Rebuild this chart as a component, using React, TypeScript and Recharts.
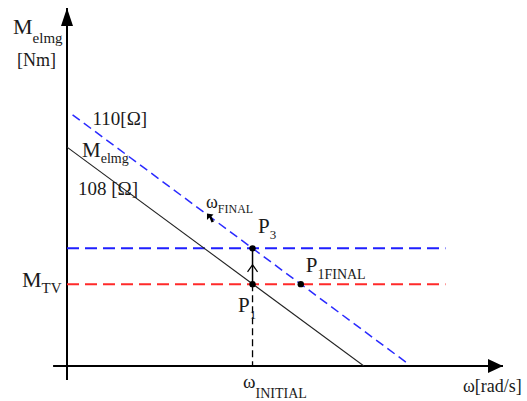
import React from 'react';
import { ComposedChart, Line, XAxis, YAxis, ReferenceLine, ReferenceDot } from 'recharts';

// Speed (rad/s) and electromagnetic torque (Nm) ranges of the diagram
const omegaDomain: [number, number] = [0, 235];
const torqueDomain: [number, number] = [0, 175];

// Mechanical characteristics for the two rotor resistances
const char108 = [
  { w: 0, m: 107 },
  { w: 160, m: 0 },
];
const char110 = [
  { w: 3, m: 122.8 },
  { w: 184, m: 1 },
];

// Operating points
const omegaInitial = 100;
const omegaP1Final = 126;
const torqueLoad = 40; // M_TV
const torqueP3 = 57.5;
const levelEnd = 204;
const omegaFinalMark = { w: 77.6, m: 72.6 };
const arrowMid = 48.5;

// Axis extents (including the small overshoot past the origin)
const axisX = { from: -7.5, to: 235 };
const axisY = { from: -6.8, to: 175 };

const FONT = '"Liberation Serif", "DejaVu Serif", serif';
const INK = '#1a1a1a';

type Pt = { cx?: number; cy?: number };

function Sub({ x, y, main, sub, size = 20, subSize = 13, drop = 7, anchor = 'start' }: {
  x: number; y: number; main: string; sub?: string; size?: number; subSize?: number; drop?: number; anchor?: string;
}) {
  return (
    <text x={x} y={y} fontFamily={FONT} fill={INK} textAnchor={anchor as any}>
      <tspan fontSize={size}>{main}</tspan>
      {sub ? (
        <tspan fontSize={subSize} dy={drop}>
          {sub}
        </tspan>
      ) : null}
    </text>
  );
}

const label = (render: (cx: number, cy: number) => React.ReactNode) => (p: Pt) => {
  const cx = p.cx ?? 0;
  const cy = p.cy ?? 0;
  return <g>{render(cx, cy)}</g>;
};

const upTriangle = label((cx, cy) => (
  <polygon points={`${cx},${cy} ${cx - 6},${cy + 18} ${cx + 6},${cy + 18}`} fill="#000" />
));
const rightTriangle = label((cx, cy) => (
  <polygon points={`${cx},${cy} ${cx - 15},${cy - 7} ${cx - 15},${cy + 7}`} fill="#000" />
));
const chevron = label((cx, cy) => (
  <polyline points={`${cx - 5},${cy + 5} ${cx},${cy - 2} ${cx + 5},${cy + 5}`} fill="none" stroke="#000" strokeWidth={1.2} />
));
const smallArrow = label((cx, cy) => (
  <path
    d={`M ${cx - 4} ${cy - 4} L ${cx + 2.5} ${cy - 3} L ${cx + 0.5} ${cy - 1} L ${cx + 3} ${cy + 4} L ${cx + 0.5} ${cy + 5} L ${cx - 1.5} ${cy} L ${cx - 4} ${cy + 2.5} Z`}
    fill="#000"
  />
));
const blackDot = label((cx, cy) => <circle cx={cx} cy={cy} r={3.2} fill="#000" />);

export default function App() {
  return (
    <div style={{ position: 'absolute', left: 0, top: 0, width: 527, height: 401, background: '#fff' }}>
      <ComposedChart width={527} height={401} margin={{ top: 8, right: 24, bottom: 35, left: 67 }}>
        <XAxis type="number" dataKey="w" domain={omegaDomain} hide allowDataOverflow />
        <YAxis type="number" dataKey="m" domain={torqueDomain} hide allowDataOverflow />

        {/* coordinate axes */}
        <ReferenceLine
          segment={[{ x: axisX.from, y: 0 }, { x: axisX.to, y: 0 }]}
          stroke="#000"
          strokeWidth={2}
          ifOverflow="visible"
        />
        <ReferenceLine
          segment={[{ x: 0, y: axisY.from }, { x: 0, y: axisY.to }]}
          stroke="#000"
          strokeWidth={2}
          ifOverflow="visible"
        />
        <ReferenceDot x={0} y={axisY.to} shape={upTriangle} ifOverflow="visible" />
        <ReferenceDot x={axisX.to} y={0} shape={rightTriangle} ifOverflow="visible" />

        {/* load torque and new torque levels */}
        <ReferenceLine
          segment={[{ x: 0, y: torqueP3 }, { x: levelEnd, y: torqueP3 }]}
          stroke="#1f1fff"
          strokeWidth={2}
          strokeDasharray="12 6"
          ifOverflow="visible"
        />
        <ReferenceLine
          segment={[{ x: 0, y: torqueLoad }, { x: levelEnd, y: torqueLoad }]}
          stroke="#ff2a2a"
          strokeWidth={2}
          strokeDasharray="12 6"
          ifOverflow="visible"
        />

        {/* initial speed drop line */}
        <ReferenceLine
          segment={[{ x: omegaInitial, y: torqueLoad }, { x: omegaInitial, y: 0 }]}
          stroke="#000"
          strokeWidth={1.3}
          strokeDasharray="7 4"
          ifOverflow="visible"
        />

        <Line
          data={char108}
          dataKey="m"
          type="linear"
          stroke="#222"
          strokeWidth={1.1}
          dot={false}
          isAnimationActive={false}
        />
        <Line
          data={char110}
          dataKey="m"
          type="linear"
          stroke="#2a2aff"
          strokeWidth={1.5}
          strokeDasharray="9 5"
          dot={false}
          isAnimationActive={false}
        />

        {/* jump P1 -> P3 */}
        <ReferenceLine
          segment={[{ x: omegaInitial, y: torqueLoad }, { x: omegaInitial, y: torqueP3 }]}
          stroke="#000"
          strokeWidth={1.5}
          ifOverflow="visible"
        />
        <ReferenceDot x={omegaInitial} y={arrowMid} shape={chevron} ifOverflow="visible" />
        <ReferenceDot x={omegaFinalMark.w} y={omegaFinalMark.m} shape={smallArrow} ifOverflow="visible" />

        <ReferenceDot x={omegaInitial} y={torqueLoad} shape={blackDot} ifOverflow="visible" />
        <ReferenceDot x={omegaInitial} y={torqueP3} shape={blackDot} ifOverflow="visible" />
        <ReferenceDot x={omegaP1Final} y={torqueLoad} shape={blackDot} ifOverflow="visible" />

        {/* text */}
        <ReferenceDot
          x={0}
          y={axisY.to}
          ifOverflow="visible"
          shape={label((cx, cy) => (
            <>
              <Sub x={cx - 54} y={cy + 26} main="M" sub="elmg" size={22} subSize={15} drop={9} />
              <Sub x={cx - 50} y={cy + 58} main="[Nm]" size={18} />
            </>
          ))}
        />
        <ReferenceDot
          x={axisX.to}
          y={0}
          ifOverflow="visible"
          shape={label((cx, cy) => <Sub x={cx - 40} y={cy + 26} main="ω[rad/s]" size={18} />)}
        />
        <ReferenceDot
          x={0}
          y={torqueLoad}
          ifOverflow="visible"
          shape={label((cx, cy) => <Sub x={cx - 45} y={cy + 3} main="M" sub="TV" size={22} subSize={15} drop={6} />)}
        />
        <ReferenceDot
          x={omegaInitial}
          y={0}
          ifOverflow="visible"
          shape={label((cx, cy) => <Sub x={cx - 9.5} y={cy + 22} main="ω" sub="INITIAL" size={19} subSize={14} drop={10} />)}
        />
        <ReferenceDot
          x={omegaInitial}
          y={torqueLoad}
          ifOverflow="visible"
          shape={label((cx, cy) => <Sub x={cx - 14.5} y={cy + 28} main="P" sub="1" size={21} subSize={13} drop={7} />)}
        />
        <ReferenceDot
          x={omegaInitial}
          y={torqueP3}
          ifOverflow="visible"
          shape={label((cx, cy) => <Sub x={cx + 5.5} y={cy - 15} main="P" sub="3" size={21} subSize={13} drop={6} />)}
        />
        <ReferenceDot
          x={omegaP1Final}
          y={torqueLoad}
          ifOverflow="visible"
          shape={label((cx, cy) => <Sub x={cx + 5} y={cy - 12} main="P" sub="1FINAL" size={21} subSize={14} drop={7} />)}
        />
        <ReferenceDot
          x={omegaFinalMark.w}
          y={omegaFinalMark.m}
          ifOverflow="visible"
          shape={label((cx, cy) => <Sub x={cx - 5} y={cy - 9.5} main="ω" sub="FINAL" size={18} subSize={12} drop={5} />)}
        />
        <ReferenceDot
          x={char110[0].w}
          y={char110[0].m}
          ifOverflow="visible"
          shape={label((cx, cy) => <Sub x={cx + 20} y={cy + 10} main="110[Ω]" size={19} />)}
        />
        <ReferenceDot
          x={char108[0].w}
          y={char108[0].m}
          ifOverflow="visible"
          shape={label((cx, cy) => (
            <>
              <Sub x={cx + 15} y={cy + 10} main="M" sub="elmg" size={21} subSize={14} drop={6} />
              <Sub x={cx + 11} y={cy + 48} main="108 [Ω]" size={19} />
            </>
          ))}
        />
      </ComposedChart>
    </div>
  );
}
